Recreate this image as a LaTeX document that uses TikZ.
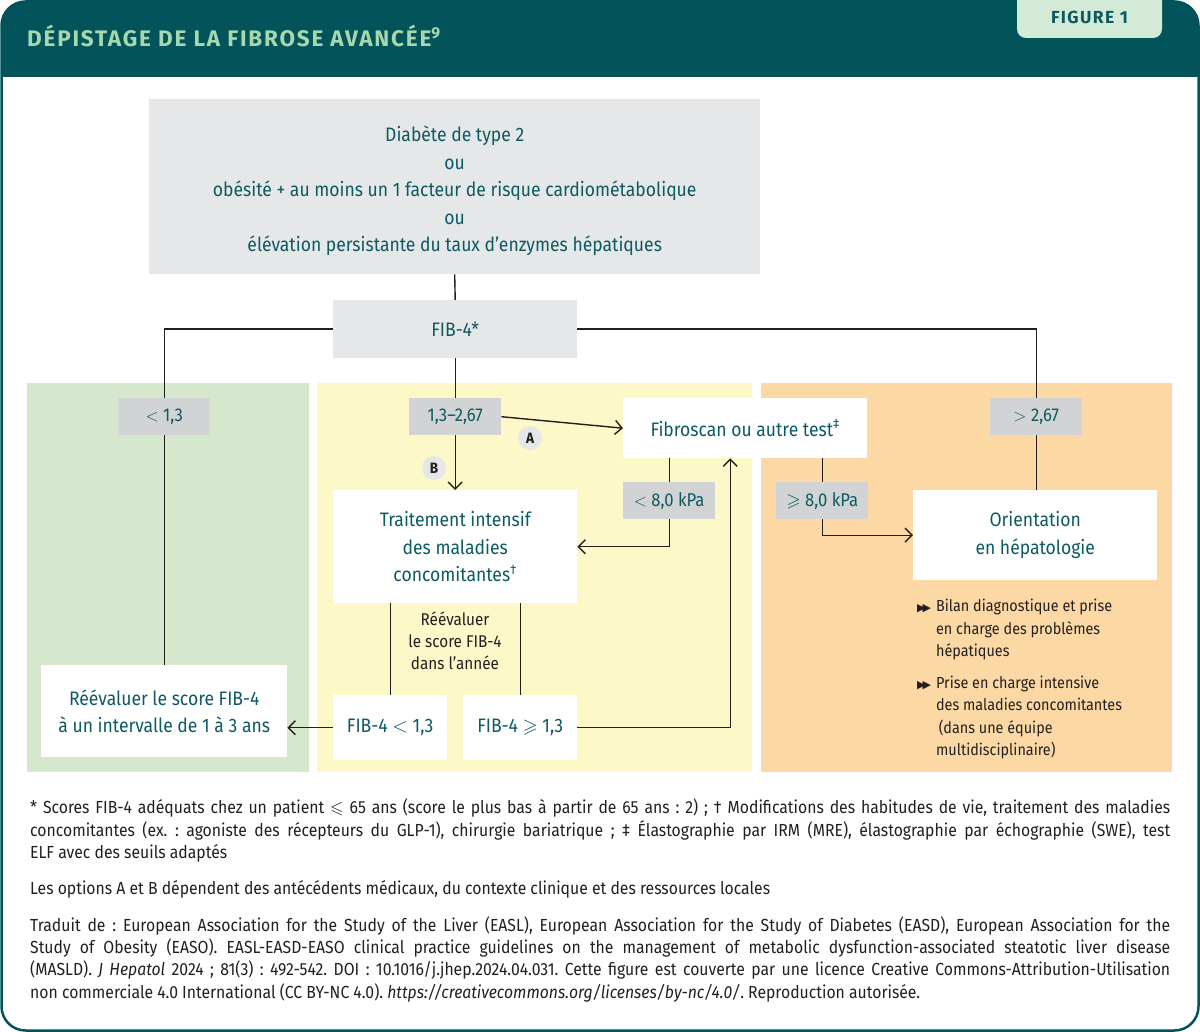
\documentclass[tikz,border=0pt]{standalone}
\usepackage{amssymb}
\usepackage{fontspec}
\setmainfont{Fira Sans}[FakeStretch=0.9]
\newfontfamily\hdfont{Fira Sans}[LetterSpace=8]
\newfontfamily\symfont{DejaVu Sans}
\usetikzlibrary{arrows.meta}
\definecolor{hdr}{HTML}{02535A}
\definecolor{ttl}{HTML}{A6D8AF}
\definecolor{tabc}{HTML}{D3EAD6}
\definecolor{txt}{HTML}{0D5B62}
\definecolor{dark}{HTML}{231F20}
\definecolor{boxg}{HTML}{E6E7E8}
\definecolor{labg}{HTML}{D1D3D4}
\definecolor{pgreen}{HTML}{D5E7CC}
\definecolor{pyellow}{HTML}{FDF8C8}
\definecolor{porange}{HTML}{FCD8A4}
\newcommand{\bigsz}{\fontsize{19.5}{27.5}\selectfont}
\newcommand{\smsz}{\fontsize{16}{22.5}\selectfont}
\newcommand{\bl}{{\symfont\fontsize{11}{11}\selectfont ▶\kern-3pt▶}}
\begin{document}
\frenchspacing
\begin{tikzpicture}[x=1pt,y=-1pt,
  wbox/.style={fill=white, inner sep=0pt, text=txt, align=center, font=\bigsz, anchor=north west},
  gbox/.style={fill=boxg, inner sep=0pt, text=txt, align=center, font=\bigsz, anchor=north west},
  lab/.style={fill=labg, inner sep=0pt, text=txt, align=center, font=\fontsize{18.5}{22}\selectfont, anchor=north west, minimum width=92, minimum height=37},
  circ/.style={circle, fill=boxg, inner sep=0pt, minimum size=24, text=dark, font=\fontsize{15}{15}\selectfont\bfseries},
  ln/.style={draw=dark, line width=1.4pt},
  arr/.style={ln, -{Straight Barb[length=7pt,width=14pt]}}]
\useasboundingbox (0,0) rectangle (1200,1032);
% frame and header
\path[fill=white] (1.5,1.5) [rounded corners=24] rectangle (1198.5,1030.5);
\begin{scope}
\clip[rounded corners=24] (1.5,1.5) rectangle (1198.5,1030.5);
\fill[hdr] (0,0) rectangle (1200,77);
\end{scope}
\draw[hdr, line width=2.5pt, rounded corners=24] (1.5,1.5) rectangle (1198.5,1030.5);
\fill[tabc, rounded corners=9] (1017,-20) rectangle (1162,38);
\node[anchor=base west, inner sep=0pt, text=ttl, font=\hdfont\fontsize{22.5}{26}\selectfont\bfseries] (title) at (27,46.5) {DÉPISTAGE DE LA FIBROSE AVANCÉE\textsuperscript{9}};
\node[inner sep=0pt, text=txt, font=\hdfont\fontsize{17.5}{20}\selectfont\bfseries] (fig) at (1089.5,17.5) {FIGURE 1};
% panels
\fill[pgreen] (27,383) rectangle (309,772);
\fill[pyellow] (317,383) rectangle (752,772);
\fill[porange] (761,383) rectangle (1172,772);
% nodes
\node[gbox, minimum width=611, minimum height=175] (top) at (149,99) {\rule{0pt}{24pt}Diabète de type 2\\ ou\\ obésité + au moins un 1 facteur de risque cardiométabolique\\ ou\\ élévation persistante du taux d’enzymes hépatiques};
\node[gbox, minimum width=244, minimum height=58] (fib4) at (333,300) {FIB-4*};
\node[lab] (lt) at (118,398) {$<$ 1,3};
\node[lab] (mid) at (409,398) {1,3–2,67};
\node[lab] (gt) at (990,398) {$>$ 2,67};
\node[wbox, minimum width=244, minimum height=60] (fibro) at (623,398) {Fibroscan ou autre test\textsuperscript{‡}};
\node[wbox, minimum width=244, minimum height=113] (trait) at (333,490) {Traitement intensif\\ des maladies\\ concomitantes\textsuperscript{†}};
\node[lab] (lt8) at (623,482) {$<$ 8,0 kPa};
\node[lab] (ge8) at (776,482) {$\geqslant$ 8,0 kPa};
\node[wbox, minimum width=244, minimum height=90] (orient) at (913,490) {Orientation\\ en hépatologie};
\node[wbox, minimum width=246, minimum height=92] (reev) at (41,665) {Réévaluer le score FIB-4\\ à un intervalle de 1 à 3 ans};
\node[wbox, minimum width=114, minimum height=65] (f1) at (333,695) {FIB-4 $<$ 1,3};
\node[wbox, minimum width=114, minimum height=65] (f2) at (463,695) {FIB-4 $\geqslant$ 1,3};
\node[circ] (A) at (530,438) {A};
\node[circ] (B) at (434,468) {B};
\node[text=dark, align=center, inner sep=0pt, font=\fontsize{17}{22}\selectfont] (rtxt) at (455,641) {Réévaluer\\ le score FIB-4\\ dans l’année};
\node[anchor=north west, inner sep=0pt, text=dark, font=\smsz] (bul) at (917,596) {%
\begin{tabular}{@{}l@{\hspace{5pt}}l@{}}
\bl & Bilan diagnostique et prise\\
 & en charge des problèmes\\
 & hépatiques\\[9pt]
\bl & Prise en charge intensive\\
 & des maladies concomitantes\\
 & \,(dans une équipe\\
 & multidisciplinaire)
\end{tabular}};
% connectors
\draw[ln] (top.south) -- (fib4.north);
\draw[ln] (fib4.west) -| (lt.north);
\draw[ln] (lt.south) -- (reev.north);
\draw[ln] (fib4.east) -| (gt.north);
\draw[ln] (gt.south) -- (gt.south |- orient.north);
\draw[ln] (fib4.south) -- (mid.north);
\draw[arr] (mid.east) -- (fibro.west);
\draw[arr] (mid.south) -- (mid.south |- trait.north);
\draw[ln] (lt8.north |- fibro.south) -- (lt8.north);
\draw[arr] (lt8.south) |- (trait.east);
\draw[ln] (ge8.north |- fibro.south) -- (ge8.north);
\draw[arr] (ge8.south) |- (orient.west);
\draw[ln] (f1.north |- trait.south) -- (f1.north);
\draw[ln] (f2.north |- trait.south) -- (f2.north);
\draw[arr] (f1.west) -- (f1.west -| reev.east);
\draw[arr] (f2.east) -| ([xshift=-15pt]fibro.south);
% footnotes
\node[anchor=north west, inner sep=0pt, text width=1140pt, align=justify, text=dark, font=\fontsize{17.5}{22.3}\selectfont\frenchspacing] (notes) at (30,799) {%
* Scores FIB-4 adéquats chez un patient $\leqslant$ 65 ans (score le plus bas à partir de 65 ans : 2) ; † Modifications des habitudes de vie, traitement des maladies\linebreak
concomitantes (ex. : agoniste des récepteurs du GLP-1), chirurgie bariatrique ; ‡ Élastographie par IRM (MRE), élastographie par échographie (SWE), test\linebreak
ELF avec des seuils adaptés\par\vspace{14pt}
Les options A et B dépendent des antécédents médicaux, du contexte clinique et des ressources locales\par\vspace{14pt}
Traduit de : European Association for the Study of the Liver (EASL), European Association for the Study of Diabetes (EASD), European Association for the\linebreak
Study of Obesity (EASO). EASL-EASD-EASO clinical practice guidelines on the management of metabolic dysfunction-associated steatotic liver disease\linebreak
(MASLD). \textit{J Hepatol} 2024 ; 81(3) : 492-542. DOI : 10.1016/j.jhep.2024.04.031. Cette figure est couverte par une licence Creative Commons-Attribution-Utilisation\linebreak
non commerciale 4.0 International (CC BY-NC 4.0). \textit{https://creativecommons.org/licenses/by-nc/4.0/}. Reproduction autorisée.};
\end{tikzpicture}
\end{document}
